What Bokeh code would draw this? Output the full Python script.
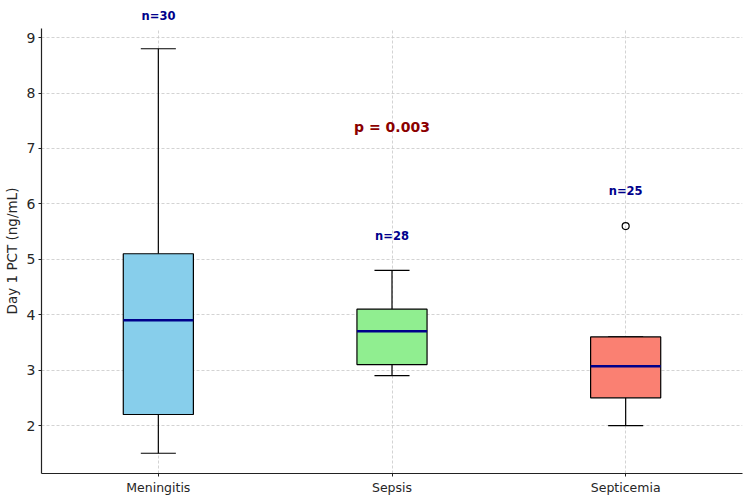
from bokeh.plotting import figure
from bokeh.models import Range1d, FixedTicker, Label, ColumnDataSource, Title
from bokeh.embed import file_html
from bokeh.resources import INLINE

# Day 1 PCT summary statistics per diagnosis
categories = ["Meningitis", "Sepsis", "Septicemia"]
n_counts = [30, 28, 25]
whisker_low = [1.5, 2.9, 2.0]
q1 = [2.2, 3.1, 2.5]
median = [3.9, 3.7, 3.07]
q3 = [5.1, 4.1, 3.6]
whisker_high = [8.8, 4.8, 3.6]
outlier_group = ["Septicemia"]
outlier_value = [5.6]
box_colors = ["#87CEEB", "#90EE90", "#FA8072"]
p_value = 0.003

positions = [i + 1 for i in range(len(categories))]
box_w = 0.3
cap_w = 0.15

W, H = 750, 498
BL, BR, BT, BB = 40, 8, 28, 25
x_lo, x_hi = 0.5, 3.5
y_lo, y_hi = 1.135, 9.165

p = figure(width=W, height=H, output_backend="svg", toolbar_location=None,
           x_range=Range1d(x_lo, x_hi), y_range=Range1d(y_lo, y_hi),
           min_border_left=BL, min_border_right=BR, min_border_top=BT, min_border_bottom=BB)
p.outline_line_color = None
p.background_fill_color = "white"

src = ColumnDataSource(dict(
    x=positions, lo=whisker_low, q1=q1, med=median, q3=q3, hi=whisker_high,
    color=box_colors,
    bx0=[x - box_w / 2 for x in positions], bx1=[x + box_w / 2 for x in positions],
    cx0=[x - cap_w / 2 for x in positions], cx1=[x + cap_w / 2 for x in positions],
))

# whiskers and caps
p.segment(x0="x", y0="q3", x1="x", y1="hi", source=src, line_color="black", line_width=1.2)
p.segment(x0="x", y0="q1", x1="x", y1="lo", source=src, line_color="black", line_width=1.2)
p.segment(x0="cx0", y0="hi", x1="cx1", y1="hi", source=src, line_color="black", line_width=1.2)
p.segment(x0="cx0", y0="lo", x1="cx1", y1="lo", source=src, line_color="black", line_width=1.2)

# boxes
p.vbar(x="x", width=box_w, bottom="q1", top="q3", source=src,
       fill_color="color", line_color="black", line_width=1.2)

# medians
p.segment(x0="bx0", y0="med", x1="bx1", y1="med", source=src, line_color="#00008B", line_width=2.5)

# outliers
ox = [positions[categories.index(g)] for g in outlier_group]
p.scatter(ox, outlier_value, marker="circle", size=7, fill_color=None,
          line_color="black", line_width=1.2)

# sample sizes above each group; a label that falls above the plot area
# goes into the top panel so it is not clipped
n_font_px = 11.5
frame_w = W - BL - BR
px_per_unit = frame_w / (x_hi - x_lo)
for x, n, hi, g in zip(positions, n_counts, whisker_high, categories):
    top = max([hi] + [v for og, v in zip(outlier_group, outlier_value) if og == g])
    ly = top + 0.5
    txt = f"n={n}"
    style = dict(text_color="#00008B", text_font="DejaVu Sans",
                 text_font_style="bold", text_font_size=f"{n_font_px}px")
    if ly > y_hi:
        half_w = 0.5 * 2.94 * n_font_px  # approximate half width of the bold label
        p.add_layout(Title(text=txt, align="left",
                           offset=(x - x_lo) * px_per_unit - half_w,
                           standoff=12, **style), "above")
    else:
        p.add_layout(Label(x=x, y=ly, text=txt, text_align="center",
                           text_baseline="bottom", **style))

p.add_layout(Label(x=2, y=7.38, text=f"p = {p_value:.3f}", text_align="center",
                   text_baseline="middle", text_color="#8B0000",
                   text_font="DejaVu Sans", text_font_style="bold", text_font_size="14px"))

# axes
p.xaxis.ticker = FixedTicker(ticks=positions)
p.xaxis.major_label_overrides = {x: c for x, c in zip(positions, categories)}
p.yaxis.ticker = FixedTicker(ticks=list(range(2, 10)))
p.yaxis.axis_label = "Day 1 PCT (ng/mL)"

for ax in (p.xaxis, p.yaxis):
    ax.axis_line_color = "#222222"
    ax.axis_line_width = 1.2
    ax.major_tick_line_color = "#222222"
    ax.major_tick_out = 3
    ax.major_tick_in = 0
    ax.minor_tick_line_color = None
    ax.major_label_text_font = "DejaVu Sans"
    ax.major_label_text_color = "#262626"
    ax.major_label_standoff = 3
p.xaxis.major_label_text_font_size = "12.5px"
p.yaxis.major_label_text_font_size = "14px"
p.yaxis.axis_label_text_font = "DejaVu Sans"
p.yaxis.axis_label_text_font_size = "13.5px"
p.yaxis.axis_label_text_font_style = "normal"
p.yaxis.axis_label_text_color = "#262626"
p.yaxis.axis_label_standoff = 4

p.xgrid.ticker = FixedTicker(ticks=positions)
p.ygrid.ticker = FixedTicker(ticks=list(range(2, 10)))
for g in (p.xgrid, p.ygrid):
    g.grid_line_color = "#c8c8c8"
    g.grid_line_dash = "3 2"
    g.grid_line_width = 0.8

open("out.html", "w").write(file_html(p, INLINE))
